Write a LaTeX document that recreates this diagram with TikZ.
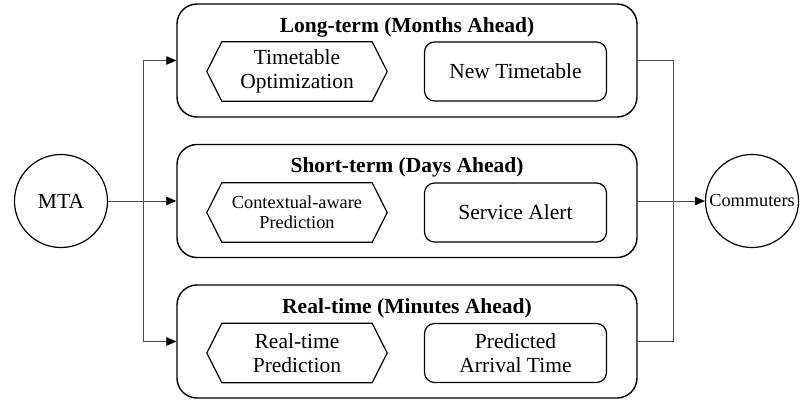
\documentclass[tikz,border=0pt]{standalone}
\usepackage{fontspec}
\setmainfont{Liberation Serif}
\usetikzlibrary{arrows.meta}
\begin{document}
\begin{tikzpicture}[x=1pt,y=-1pt,
 outerbox/.style={draw, line width=1.4pt, rounded corners=20pt, minimum width=460pt, minimum height=113pt, inner sep=0pt},
 innerbox/.style={draw, line width=1.2pt, rounded corners=10pt, minimum width=182pt, minimum height=59pt, align=center, inner sep=0pt, font=\fontsize{21.5}{24}\selectfont},
 hexbase/.style={minimum width=180pt, minimum height=59pt, align=center, inner sep=0pt, font=\fontsize{21.5}{24}\selectfont},
 smalltext/.style={font=\fontsize{18.3}{20}\selectfont},
 hexline/.style={draw, line width=1.2pt, line join=miter},
 titletext/.style={anchor=base, inner sep=0pt, font=\bfseries\fontsize{21.5}{24}\selectfont},
 conn/.style={draw=black!70, line width=0.8pt},
 arr/.style={conn, -{Triangle[length=10pt,width=8.5pt,color=black,fill=black]}},
 actor/.style={circle, draw, line width=1.2pt, minimum size=93pt, inner sep=0pt, font=\fontsize{21.5}{24}\selectfont}
]
\useasboundingbox (0,0) rectangle (801,400);

% outer boxes
\node[outerbox] (top) at (407,60.5) {};
\node[outerbox] (mid) at (407,201) {};
\node[outerbox] (bot) at (407,341.5) {};

% titles
\node[titletext] (t1) at (407,32) {Long-term (Months Ahead)};
\node[titletext] (t2) at (407,172) {Short-term (Days Ahead)};
\node[titletext] (t3) at (407,313) {Real-time (Minutes Ahead)};

% hexagons
\node[hexbase] (h1) at (297,71.5) {Timetable\\Optimization};
\node[hexbase, smalltext] (h2) at (297,212.5) {Contextual-aware\\Prediction};
\node[hexbase] (h3) at (297,353) {Real-time\\Prediction};
\foreach \h in {h1,h2,h3}{
  \draw[hexline] (\h.west) -- ([xshift=15pt]\h.north west) -- ([xshift=-15pt]\h.north east)
    -- (\h.east) -- ([xshift=-15pt]\h.south east) -- ([xshift=15pt]\h.south west) -- cycle;
}

% result boxes
\node[innerbox] (r1) at (515.5,71.5) {New Timetable};
\node[innerbox] (r2) at (515.5,212.5) {Service Alert};
\node[innerbox] (r3) at (515.5,353) {Predicted\\Arrival Time};

% actors
\node[actor] (mta) at (61,201) {MTA};
\node[actor, smalltext] (com) at (752,201) {Commuters};

% connectors
\coordinate (split) at (143,201);
\coordinate (merge) at (673,201);
\draw[arr] (mta) -- (mid);
\draw[arr] (split) |- (top.west);
\draw[arr] (split) |- (bot.west);
\draw[conn] (top.east) -| (merge);
\draw[conn] (bot.east) -| (merge);
\draw[arr] (mid.east) -- (com);
\end{tikzpicture}
\end{document}
